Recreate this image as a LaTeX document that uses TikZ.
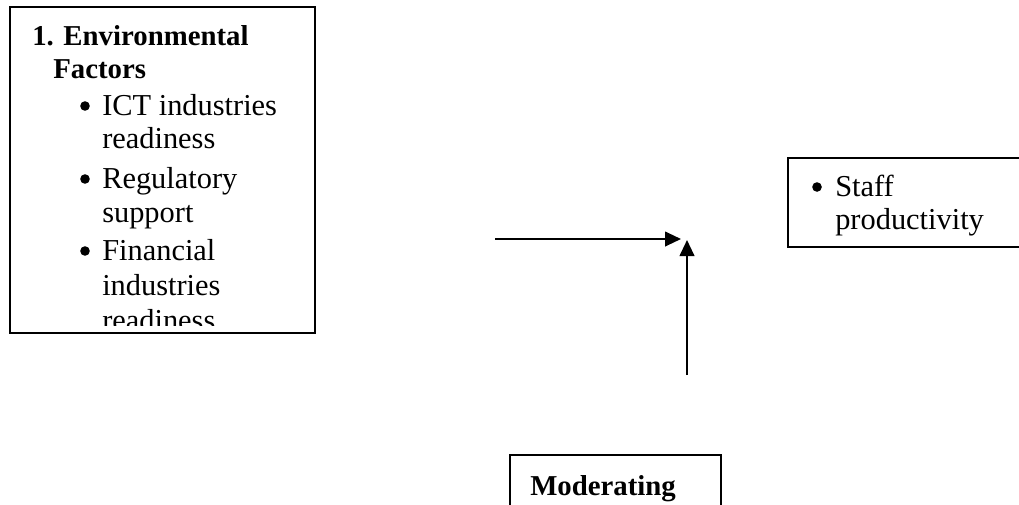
\documentclass[tikz,border=0pt]{standalone}
\usepackage{fontspec}
\setmainfont{Liberation Serif}
\usetikzlibrary{arrows.meta}
\begin{document}
\begin{tikzpicture}[x=0.75pt,y=-0.75pt,
 box/.style={draw,line width=1.4pt},
 txt/.style={anchor=base west,inner sep=0pt,font=\fontsize{22.8}{26}\selectfont},
 btxt/.style={anchor=base west,inner sep=0pt,font=\fontsize{21.6}{26}\selectfont\bfseries},
 dot/.style={circle,fill,inner sep=0pt,minimum size=7.2pt},
 arr/.style={line width=1.5pt,-{Triangle[length=12pt,width=11pt]}}]
\useasboundingbox (0,0) rectangle (1019,504);
% left box
\draw[box] (10,7) rectangle (315,333);
\begin{scope}
\clip (12,9) rectangle (313,325);
\node[btxt] (t1) at (32,45) {1. Environmental};
\node[btxt] (t2) at (53,78) {Factors};
\node[dot] (b1) at (85,106) {};
\node[txt] (l1) at (102,115) {ICT industries};
\node[txt] (l2) at (102,148) {readiness};
\node[dot] (b2) at (85,179) {};
\node[txt] (l3) at (102,188) {Regulatory};
\node[txt] (l4) at (102,222) {support};
\node[dot] (b3) at (85,251) {};
\node[txt] (l5) at (102,260) {Financial};
\node[txt] (l6) at (102,295) {industries};
\node[txt] (l7) at (102,330) {readiness};
\end{scope}
% staff box
\draw[box] (788,158) rectangle (1030,247);
\node[dot] (sb) at (817,187) {};
\node[txt] (s1) at (835,196) {Staff};
\node[txt] (s2) at (835,229) {productivity};
% moderating box
\draw[box] (510,455) rectangle (721,530);
\node[btxt] (m1) at (530,495) {Moderating};
% arrows
\coordinate (h0) at (495,239);
\coordinate (h1) at (681,239);
\coordinate (v0) at (687,375);
\coordinate (v1) at (687,240);
\draw[arr] (h0) -- (h1);
\draw[arr] (v0) -- (v1);
\end{tikzpicture}
\end{document}
